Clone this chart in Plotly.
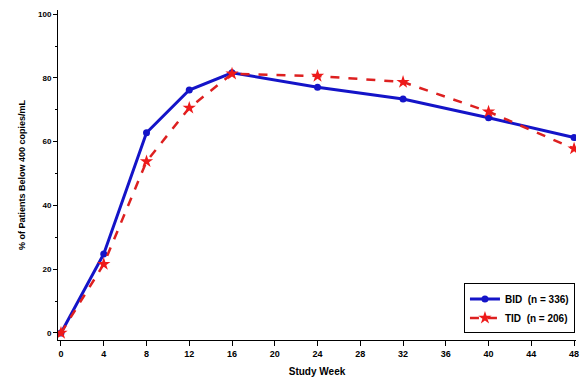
import plotly.graph_objects as go

weeks = [0, 4, 8, 12, 16, 24, 32, 40, 48]
bid = [0, 24.8, 62.8, 76.2, 81.6, 77.1, 73.4, 67.5, 61.3]
tid = [0, 21.6, 53.8, 70.6, 81.3, 80.6, 78.7, 69.4, 57.8]
x_ticks = [0, 4, 8, 12, 16, 20, 24, 28, 32, 36, 40, 44, 48]
y_ticks = [0, 20, 40, 60, 80, 100]

font_family = "Liberation Sans, Arial, sans-serif"

fig = go.Figure()
fig.add_trace(go.Scatter(
    x=weeks, y=bid, mode="lines+markers", name="<b>BID  (n = 336)</b>",
    line=dict(color="#1414c8", width=3),
    marker=dict(symbol="circle", size=7, color="#1414c8"),
))
fig.add_trace(go.Scatter(
    x=weeks, y=tid, mode="lines+markers", name="<b>TID  (n = 206)</b>",
    line=dict(color="#dd2020", width=2.5, dash="dash"),
    marker=dict(symbol="star", size=10, color="#ee1a1a"),
))

fig.update_layout(
    width=581, height=381,
    margin=dict(l=58, r=5, t=10, b=41),
    paper_bgcolor="white", plot_bgcolor="white",
    font=dict(family=font_family, size=9, color="black"),
    showlegend=True,
    legend=dict(
        x=0.998, y=0.02, xanchor="right", yanchor="bottom",
        bgcolor="white", bordercolor="black", borderwidth=1,
        font=dict(size=10, family=font_family),
        tracegroupgap=0, itemwidth=30,
    ),
    xaxis=dict(
        range=[-0.28, 48.18], tickmode="array", tickvals=x_ticks,
        ticktext=[f"<b>{t}</b>" for t in x_ticks],
        showgrid=False, zeroline=False, showline=True, linecolor="black", linewidth=1,
        ticks="outside", ticklen=5, tickcolor="black",
        tickfont=dict(size=9), automargin=False,
        title=dict(text="<b>Study Week</b>", font=dict(size=10), standoff=10),
    ),
    yaxis=dict(
        range=[-2.2, 101.3], tickmode="array", tickvals=y_ticks,
        ticktext=[f"<b>{t}</b>" for t in y_ticks],
        showgrid=False, zeroline=False, showline=True, linecolor="black", linewidth=1,
        ticks="outside", ticklen=4, tickcolor="black",
        tickfont=dict(size=8), automargin=False,
        minor=dict(tickvals=[10, 30, 50, 70, 90], ticks="outside", ticklen=2, tickcolor="black"),
        title=dict(text="<b>% of Patients Below 400 copies/mL</b>", font=dict(size=9), standoff=10),
    ),
)

fig.write_html(
    "out.html",
    config={"displayModeBar": False},
    post_script="document.body.style.margin='0px';document.body.style.overflow='hidden';",
)
